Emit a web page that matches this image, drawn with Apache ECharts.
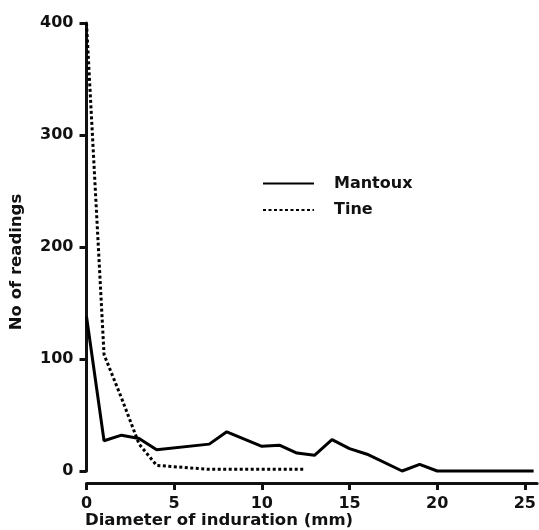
<!DOCTYPE html>
<html>
<head>
<meta charset="utf-8">
<script src="https://cdn.jsdelivr.net/npm/echarts@6/dist/echarts.min.js"></script>
<style>
html,body{margin:0;padding:0;background:#fff;}
#chart{width:539px;height:530px;}
</style>
</head>
<body>
<div id="chart"></div>
<script>
// Mantoux readings: [diameter (mm), number of readings]
const mantoux = [[0,138],[1,27],[2,32],[3,29],[4,19],[7,24],[8,35],[10,22],[11,23],[12,16],[13,14],[14,28],[15,20],[16,15],[18,0],[19,6],[20,0],[25.5,0]];
// Tine readings
const tine = [[0,400],[1,104],[2,65],[3,24],[4,5],[7,1.5],[12.5,1.5]];
const xTicks = [0,5,10,15,20,25];
const yTicks = [0,100,200,300,400];
const seriesNames = ['Mantoux','Tine'];
const xTitle = 'Diameter of induration (mm)';
const yTitle = 'No of readings';

const FONT = 'DejaVu Sans';
const chart = echarts.init(document.getElementById('chart'), null, {renderer:'canvas'});
chart.setOption({
  animation:false,
  backgroundColor:'#fff',
  grid:{left:86.5, right:0, top:23, bottom:59, containLabel:false},
  legend:{
    orient:'vertical', left:257, top:170.5,
    itemWidth:51, itemHeight:14, itemGap:10.5,
    data:seriesNames,
    itemStyle:{opacity:0},
    textStyle:{fontFamily:FONT, fontWeight:'bold', fontSize:16, color:'#111', padding:[0,0,0,15]}
  },
  xAxis:{
    type:'value', min:0, max:25.7, offset:12,
    splitLine:{show:false},
    axisLine:{onZero:false, lineStyle:{color:'#111', width:3}},
    axisTick:{show:true, length:7, lineStyle:{width:3, color:'#111'}, customValues:xTicks},
    axisLabel:{fontFamily:FONT, fontWeight:'bold', fontSize:16, color:'#111', margin:13, customValues:xTicks}
  },
  yAxis:{
    type:'value', min:0, max:400, interval:100,
    splitLine:{show:false},
    axisLine:{show:true, lineStyle:{color:'#111', width:3}},
    axisTick:{show:true, length:7, lineStyle:{width:3, color:'#111'}},
    axisLabel:{fontFamily:FONT, fontWeight:'bold', fontSize:16, color:'#111', margin:13, customValues:yTicks}
  },
  graphic:[
    {type:'text', left:85, top:512, style:{text:xTitle, font:'bold 16.5px "DejaVu Sans"', fill:'#111'}},
    {type:'text', x:17, y:262, rotation:Math.PI/2, style:{text:yTitle, font:'bold 16.5px "DejaVu Sans"', fill:'#111', align:'center', verticalAlign:'middle'}}
  ],
  series:[
    {name:seriesNames[0], type:'line', data:mantoux, symbol:'none', clip:false,
     lineStyle:{color:'#000', width:3, type:'solid'}, itemStyle:{color:'#000'}},
    {name:seriesNames[1], type:'line', data:tine, symbol:'none', clip:false,
     lineStyle:{color:'#000', width:3, type:[3,2.5]}, itemStyle:{color:'#000'}}
  ]
});
</script>
</body>
</html>
